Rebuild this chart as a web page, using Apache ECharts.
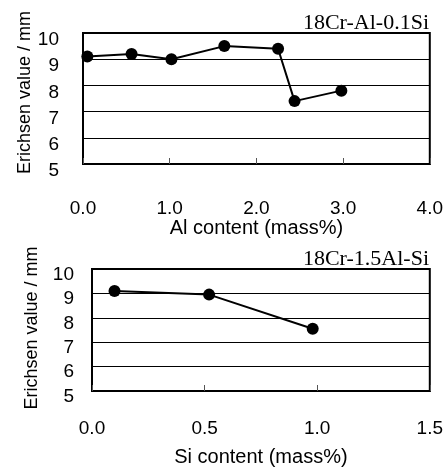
<!DOCTYPE html>
<html>
<head>
<meta charset="utf-8">
<script src="https://cdn.jsdelivr.net/npm/echarts@6/dist/echarts.min.js"></script>
<style>
  html, body { margin: 0; padding: 0; background: #fff; }
  #main { width: 446px; height: 468px; }
</style>
</head>
<body>
<div id="main"></div>
<script>
    // 18Cr-Al-0.1Si : Erichsen value vs Al content
    var alContent = [0.05, 0.56, 1.02, 1.63, 2.25, 2.44, 2.98];
    var alErichsen = [9.1, 9.2, 9.0, 9.5, 9.4, 7.4, 7.8];
    // 18Cr-1.5Al-Si : Erichsen value vs Si content
    var siContent = [0.10, 0.52, 0.98];
    var siErichsen = [9.1, 8.95, 7.55];

    var titles = ['18Cr-Al-0.1Si', '18Cr-1.5Al-Si'];
    var xNames = ['Al content (mass%)', 'Si content (mass%)'];
    var yName = 'Erichsen value / mm';

    function pairs(xs, ys) {
        return xs.map(function (x, i) { return [x, ys[i]]; });
    }

    var sans = "'Liberation Sans', Arial, sans-serif";
    var serif = "'Liberation Serif', 'Times New Roman', serif";

    function xAxisOf(idx, max, step, lblMargin, gap) {
        return {
            type: 'value',
            gridIndex: idx,
            min: 0,
            max: max,
            interval: step,
            name: xNames[idx],
            nameLocation: 'middle',
            nameGap: gap,
            nameMoveOverlap: false,
            nameTextStyle: { color: '#000', fontSize: 20, fontFamily: sans },
            axisLine: { show: true, lineStyle: { color: '#000', width: 2 } },
            axisTick: { show: true, inside: true, length: 6, lineStyle: { color: '#555' } },
            splitLine: { show: false },
            axisLabel: {
                color: '#000', fontSize: 19, fontFamily: sans, margin: lblMargin,
                formatter: function (v) { return v.toFixed(1); }
            }
        };
    }

    function yAxisOf(idx, gap, lblMargin, shift, nameShift) {
        return {
            type: 'value',
            gridIndex: idx,
            min: 5,
            max: 10,
            interval: 1,
            name: yName,
            nameLocation: 'middle',
            nameGap: gap,
            nameMoveOverlap: false,
            nameTextStyle: { color: '#000', fontSize: 18, fontFamily: sans, padding: [0, 0, 0, nameShift] },
            axisLine: { show: true, lineStyle: { color: '#000', width: 2 } },
            axisTick: { show: false },
            splitLine: { show: true, lineStyle: { color: '#000', width: 1 } },
            axisLabel: {
                color: '#000', fontSize: 19, fontFamily: sans, margin: lblMargin,
                verticalAlign: 'top', lineHeight: shift
            }
        };
    }

    function seriesOf(idx, data) {
        return {
            type: 'line',
            xAxisIndex: idx,
            yAxisIndex: idx,
            data: data,
            symbol: 'circle',
            symbolSize: 12,
            itemStyle: { color: '#000' },
            lineStyle: { color: '#000', width: 2 },
            animation: false
        };
    }

    var myChart = echarts.init(document.getElementById('main'));
    var option = {
        backgroundColor: '#fff',
        animation: false,
        title: [
            { text: titles[0], right: 12, top: 7,
              textStyle: { fontFamily: serif, fontWeight: 'normal', fontSize: 22, color: '#000' } },
            { text: titles[1], right: 12, top: 243,
              textStyle: { fontFamily: serif, fontWeight: 'normal', fontSize: 22, color: '#000' } }
        ],
        grid: [
            { left: 83, top: 33, width: 348, height: 131, show: true, borderColor: '#000', borderWidth: 2, backgroundColor: 'transparent' },
            { left: 92, top: 269, width: 343, height: 124, show: true, borderColor: '#000', borderWidth: 2, backgroundColor: 'transparent' }
        ],
        xAxis: [ xAxisOf(0, 4, 1, 35, 54), xAxisOf(1, 1.5, 0.5, 28, 56) ],
        yAxis: [ yAxisOf(0, 49, 24, 14, 12), yAxisOf(1, 51, 18, 11, 4) ],
        series: [
            seriesOf(0, pairs(alContent, alErichsen)),
            seriesOf(1, pairs(siContent, siErichsen))
        ]
    };
    option && myChart.setOption(option);
</script>
</body>
</html>
